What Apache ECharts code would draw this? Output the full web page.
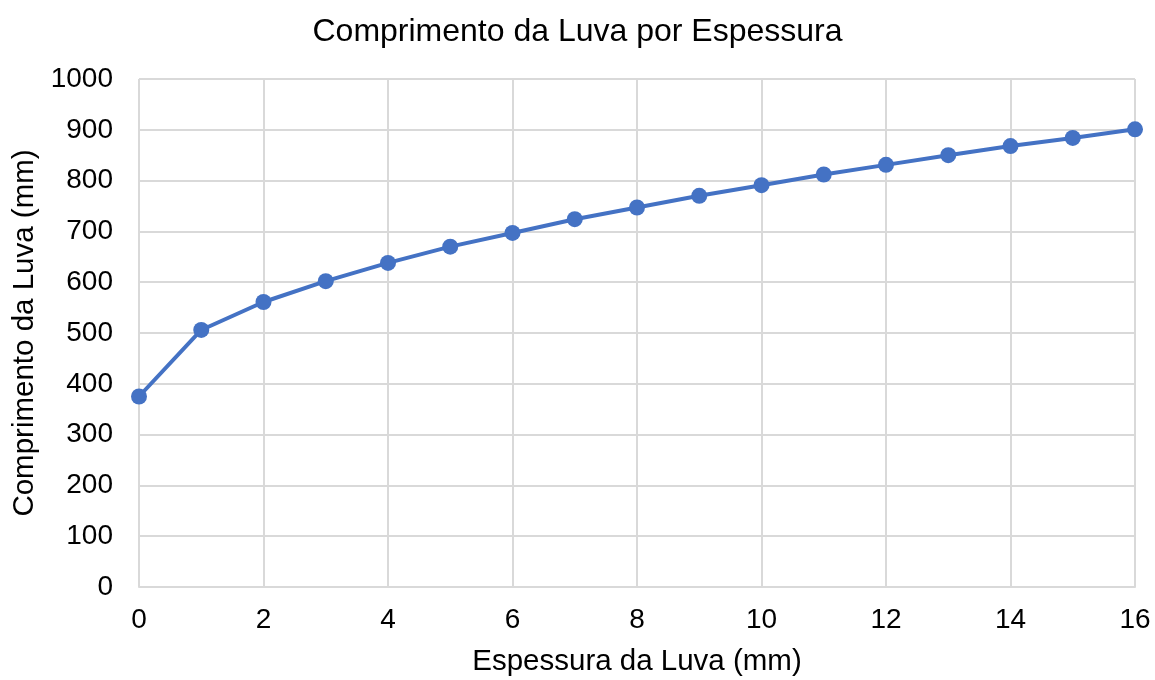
<!DOCTYPE html>
<html>
<head>
<meta charset="utf-8">
<script src="https://cdn.jsdelivr.net/npm/echarts@6/dist/echarts.min.js"></script>
<style>
  html, body { margin: 0; padding: 0; background: #fff; }
  #chart { width: 1155px; height: 680px; }
</style>
</head>
<body>
<div id="chart"></div>
<script>
// Espessura da luva (mm) e comprimento correspondente (mm)
const espessura = [0, 1, 2, 3, 4, 5, 6, 7, 8, 9, 10, 11, 12, 13, 14, 15, 16];
const comprimento = [375, 506, 561, 602, 638, 670, 697, 724, 747, 770, 791, 812, 831, 850, 868, 884, 901];

const pontos = espessura.map((x, i) => [x, comprimento[i]]);
const fonte = 'Liberation Sans, Arial, sans-serif';

const chart = echarts.init(document.getElementById('chart'), null, { renderer: 'canvas' });
chart.setOption({
  animation: false,
  backgroundColor: '#ffffff',
  title: {
    text: 'Comprimento da Luva por Espessura',
    left: 'center',
    top: 11,
    textStyle: { fontFamily: fonte, fontSize: 32, fontWeight: 'normal', color: '#000' }
  },
  grid: { left: 139, right: 20, top: 79, bottom: 93, containLabel: false, outerBoundsMode: 'none' },
  xAxis: {
    type: 'value',
    min: 0, max: 16, interval: 2,
    name: 'Espessura da Luva (mm)',
    nameLocation: 'middle',
    nameGap: 60,
    nameTextStyle: { fontFamily: fonte, fontSize: 29.5, color: '#000' },
    axisLine: { show: true, lineStyle: { color: '#d9d9d9', width: 2 } },
    axisTick: { show: false },
    axisLabel: { fontFamily: fonte, fontSize: 28, color: '#000', margin: 19 },
    splitLine: { show: true, lineStyle: { color: '#d9d9d9', width: 2 } }
  },
  yAxis: {
    type: 'value',
    min: 0, max: 1000, interval: 100,
    name: 'Comprimento da Luva (mm)',
    nameLocation: 'middle',
    nameGap: 99,
    nameRotate: 90,
    nameTextStyle: { fontFamily: fonte, fontSize: 29.5, color: '#000' },
    axisLine: { show: false },
    axisTick: { show: false },
    axisLabel: { fontFamily: fonte, fontSize: 28, color: '#000', margin: 26, formatter: (v) => String(v) },
    splitLine: { show: true, lineStyle: { color: '#d9d9d9', width: 2 } }
  },
  series: [{
    type: 'line',
    data: pontos,
    symbol: 'circle',
    symbolSize: 16,
    itemStyle: { color: '#4472C4' },
    lineStyle: { color: '#4472C4', width: 4 },
    z: 3
  }]
});
</script>
</body>
</html>
